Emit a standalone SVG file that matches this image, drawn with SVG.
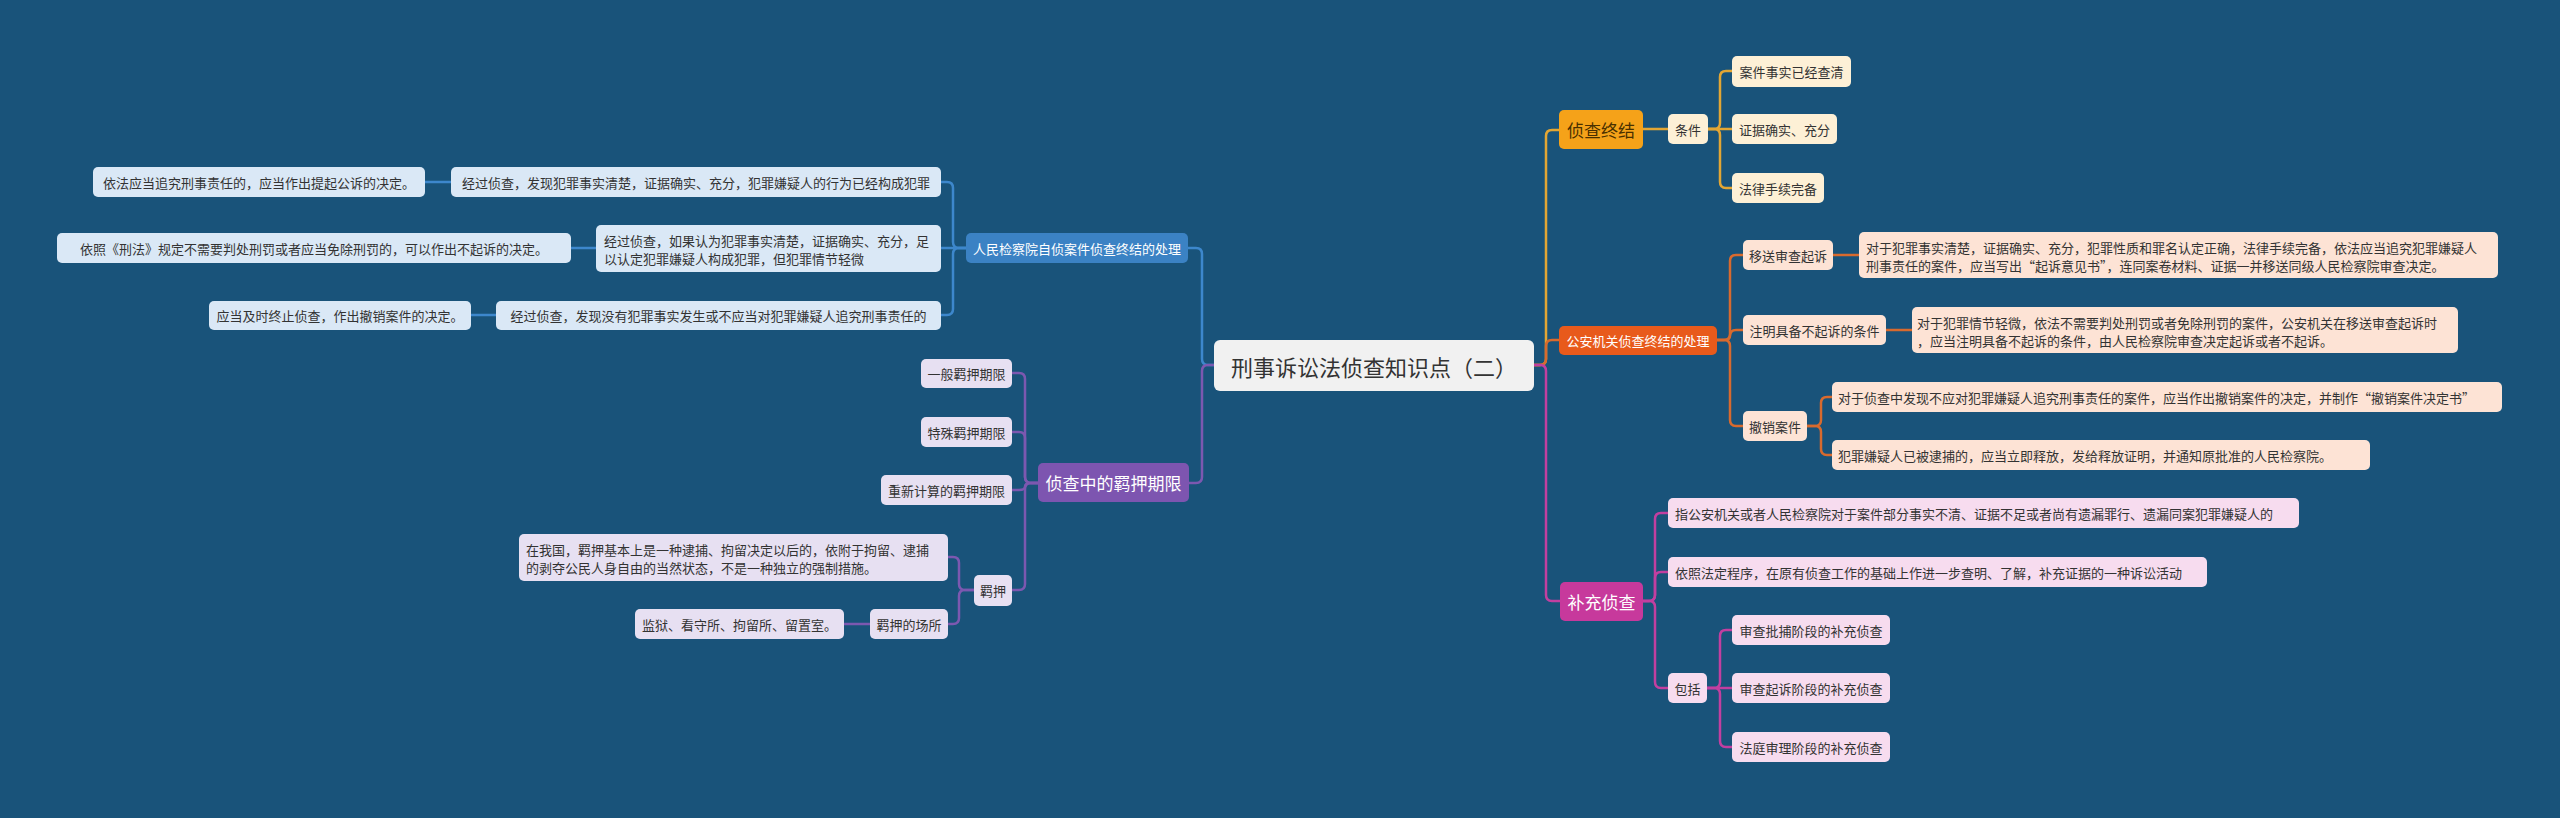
<svg xmlns="http://www.w3.org/2000/svg" width="2560" height="818" viewBox="0 0 2560 818">
<style>
text{font-family:"Noto Sans CJK SC","Noto Sans",sans-serif;dominant-baseline:central;}
.t13{font-size:13px;}
.t17{font-size:17px;}
.c{text-anchor:middle;}
.dk{fill:#333333;}
.wt{fill:#ffffff;}
.lf-b{fill:#dae8f6;}
.lf-p{fill:#e7e0f2;}
.lf-o{fill:#fdf0d6;}
.lf-r{fill:#fde3d5;}
.lf-m{fill:#f7dcef;}
.ln{fill:none;stroke-width:2.5;stroke-linecap:round;}
.lb{stroke:#3d87cc;}
.lp{stroke:#7c58b0;}
.lo{stroke:#e3a634;}
.lr{stroke:#d86a2e;}
.lm{stroke:#c23fa0;}
</style>
<rect x="0" y="0" width="2560" height="818" fill="#19537a"/>

<g id="connectors">
<path class="ln lo" d="M1534 365 H1540 Q1546 365 1546 359 V136 Q1546 130 1552 130 H1559"/>
<path class="ln lr" d="M1534 365 H1540 Q1546 365 1546 359 V346 Q1546 340 1552 340 H1559"/>
<path class="ln lm" d="M1534 365 H1540 Q1546 365 1546 371 V595 Q1546 601 1552 601 H1560"/>
<path class="ln lb" d="M1214 365 H1208 Q1202 365 1202 359 V254 Q1202 248 1196 248 H1188"/>
<path class="ln lp" d="M1214 365 H1208 Q1202 365 1202 371 V477 Q1202 483 1196 483 H1189"/>

<path class="ln lb" d="M966 248 H959 Q953 248 953 242 V188 Q953 182 947 182 H941"/>
<path class="ln lb" d="M966 248 H941"/>
<path class="ln lb" d="M966 248 H959 Q953 248 953 254 V309 Q953 315 947 315 H941"/>
<path class="ln lb" d="M451 182 H425"/>
<path class="ln lb" d="M596 248 H571"/>
<path class="ln lb" d="M496 315 H471"/>

<path class="ln lp" d="M1038 483 H1031 Q1025 483 1025 477 V379 Q1025 373 1019 373 H1012"/>
<path class="ln lp" d="M1038 483 H1031 Q1025 483 1025 477 V438 Q1025 432 1019 432 H1012"/>
<path class="ln lp" d="M1038 483 H1031 Q1025 483 1025 486.5 Q1025 490 1019 490 H1012"/>
<path class="ln lp" d="M1038 483 H1031 Q1025 483 1025 489 V584 Q1025 590 1019 590 H1012"/>
<path class="ln lp" d="M974 590 H965 Q959 590 959 584 V563 Q959 557 953 557 H948"/>
<path class="ln lp" d="M974 590 H965 Q959 590 959 596 V618 Q959 624 953 624 H948"/>
<path class="ln lp" d="M870 624 H844"/>

<path class="ln lo" d="M1643 129 H1668"/>
<path class="ln lo" d="M1708 129 H1714 Q1720 129 1720 123 V77 Q1720 71 1726 71 H1732"/>
<path class="ln lo" d="M1708 129 H1732"/>
<path class="ln lo" d="M1708 129 H1714 Q1720 129 1720 135 V182 Q1720 188 1726 188 H1732"/>

<path class="ln lr" d="M1717 340 H1724 Q1730 340 1730 334 V261 Q1730 255 1736 255 H1743"/>
<path class="ln lr" d="M1717 340 H1724 Q1730 340 1730 336 Q1730 330 1736 330 H1743"/>
<path class="ln lr" d="M1717 340 H1724 Q1730 340 1730 346 V420 Q1730 426 1736 426 H1743"/>
<path class="ln lr" d="M1833 255 H1859"/>
<path class="ln lr" d="M1886 330 H1912"/>
<path class="ln lr" d="M1807 426 H1815 Q1821 426 1821 420 V403 Q1821 397 1827 397 H1832"/>
<path class="ln lr" d="M1807 426 H1815 Q1821 426 1821 432 V449 Q1821 455 1827 455 H1832"/>

<path class="ln lm" d="M1643 601 H1649 Q1655 601 1655 595 V519 Q1655 513 1661 513 H1668"/>
<path class="ln lm" d="M1643 601 H1649 Q1655 601 1655 595 V578 Q1655 572 1661 572 H1668"/>
<path class="ln lm" d="M1643 601 H1649 Q1655 601 1655 607 V682 Q1655 688 1661 688 H1668"/>
<path class="ln lm" d="M1707 688 H1714 Q1720 688 1720 682 V636 Q1720 630 1726 630 H1732"/>
<path class="ln lm" d="M1707 688 H1732"/>
<path class="ln lm" d="M1707 688 H1714 Q1720 688 1720 694 V741 Q1720 747 1726 747 H1732"/>
</g>

<g id="root"><rect x="1214" y="340" width="320" height="51" rx="6" fill="#f1f1f1"/><text x="1374" y="365.5" class="c dk" font-size="22">刑事诉讼法侦查知识点（二）</text></g>

<g id="rmjcy"><rect x="966" y="233" width="222" height="30" rx="5" fill="#3b82c4"/><text x="1077" y="248" class="t13 c wt">人民检察院自侦案件侦查终结的处理</text></g>
<g id="b1"><rect class="lf-b" x="451" y="167" width="490" height="30" rx="5"/><text x="696" y="182" class="t13 c dk">经过侦查，发现犯罪事实清楚，证据确实、充分，犯罪嫌疑人的行为已经构成犯罪</text></g>
<g id="b2"><rect class="lf-b" x="596" y="225" width="345" height="47" rx="5"/><text class="t13 dk"><tspan x="604" y="239.5">经过侦查，如果认为犯罪事实清楚，证据确实、充分，足</tspan><tspan x="604" y="257.5">以认定犯罪嫌疑人构成犯罪，但犯罪情节轻微</tspan></text></g>
<g id="b3"><rect class="lf-b" x="496" y="301" width="445" height="29" rx="5"/><text x="718.5" y="315.5" class="t13 c dk">经过侦查，发现没有犯罪事实发生或不应当对犯罪嫌疑人追究刑事责任的</text></g>
<g id="a1"><rect class="lf-b" x="93" y="167" width="332" height="30" rx="5"/><text x="259" y="182" class="t13 c dk">依法应当追究刑事责任的，应当作出提起公诉的决定。</text></g>
<g id="a2"><rect class="lf-b" x="57" y="233" width="514" height="30" rx="5"/><text x="314" y="248" class="t13 c dk">依照《刑法》规定不需要判处刑罚或者应当免除刑罚的，可以作出不起诉的决定。</text></g>
<g id="a3"><rect class="lf-b" x="209" y="301" width="262" height="29" rx="5"/><text x="340" y="315.5" class="t13 c dk">应当及时终止侦查，作出撤销案件的决定。</text></g>

<g id="jyqx"><rect x="1038" y="463" width="151" height="39" rx="5" fill="#7d55b0"/><text x="1113.5" y="482.5" class="t17 c wt">侦查中的羁押期限</text></g>
<g id="p1"><rect class="lf-p" x="921" y="359" width="91" height="29" rx="5"/><text x="966.5" y="373.5" class="t13 c dk">一般羁押期限</text></g>
<g id="p2"><rect class="lf-p" x="921" y="417" width="91" height="30" rx="5"/><text x="966.5" y="432" class="t13 c dk">特殊羁押期限</text></g>
<g id="p3"><rect class="lf-p" x="881" y="475" width="131" height="30" rx="5"/><text x="946.5" y="490" class="t13 c dk">重新计算的羁押期限</text></g>
<g id="p4"><rect class="lf-p" x="974" y="575" width="38" height="31" rx="5"/><text x="993" y="590.5" class="t13 c dk">羁押</text></g>
<g id="p5"><rect class="lf-p" x="519" y="534" width="429" height="47" rx="5"/><text class="t13 dk"><tspan x="526" y="548.5">在我国，羁押基本上是一种逮捕、拘留决定以后的，依附于拘留、逮捕</tspan><tspan x="526" y="566.5">的剥夺公民人身自由的当然状态，不是一种独立的强制措施。</tspan></text></g>
<g id="p6"><rect class="lf-p" x="870" y="609" width="78" height="30" rx="5"/><text x="909" y="624" class="t13 c dk">羁押的场所</text></g>
<g id="p7"><rect class="lf-p" x="635" y="609" width="209" height="30" rx="5"/><text x="739.5" y="624" class="t13 c dk">监狱、看守所、拘留所、留置室。</text></g>

<g id="zczj"><rect x="1559" y="110" width="84" height="39" rx="5" fill="#f5a219"/><text x="1601" y="129.5" class="t17 c" fill="#4a3000">侦查终结</text></g>
<g id="o1"><rect class="lf-o" x="1668" y="114" width="40" height="30" rx="5"/><text x="1688" y="129" class="t13 c dk">条件</text></g>
<g id="o2"><rect class="lf-o" x="1732" y="56" width="119" height="31" rx="5"/><text x="1791.5" y="71.5" class="t13 c dk">案件事实已经查清</text></g>
<g id="o3"><rect class="lf-o" x="1732" y="114" width="105" height="30" rx="5"/><text x="1784.5" y="129" class="t13 c dk">证据确实、充分</text></g>
<g id="o4"><rect class="lf-o" x="1732" y="173" width="92" height="30" rx="5"/><text x="1778" y="188" class="t13 c dk">法律手续完备</text></g>

<g id="gajg"><rect x="1559" y="326" width="158" height="29" rx="5" fill="#e85a1b"/><text x="1638" y="340.5" class="t13 c wt">公安机关侦查终结的处理</text></g>
<g id="r1"><rect class="lf-r" x="1743" y="240" width="90" height="30" rx="5"/><text x="1788" y="255" class="t13 c dk">移送审查起诉</text></g>
<g id="r2"><rect class="lf-r" x="1859" y="232" width="639" height="46" rx="5"/><text class="t13 dk"><tspan x="1866" y="247">对于犯罪事实清楚，证据确实、充分，犯罪性质和罪名认定正确，法律手续完备，依法应当追究犯罪嫌疑人</tspan><tspan x="1866" y="264.5">刑事责任的案件，应当写出“起诉意见书”，连同案卷材料、证据一并移送同级人民检察院审查决定。</tspan></text></g>
<g id="r3"><rect class="lf-r" x="1743" y="315" width="143" height="30" rx="5"/><text x="1814.5" y="330" class="t13 c dk">注明具备不起诉的条件</text></g>
<g id="r4"><rect class="lf-r" x="1912" y="307" width="546" height="46" rx="5"/><text class="t13 dk"><tspan x="1917" y="322">对于犯罪情节轻微，依法不需要判处刑罚或者免除刑罚的案件，公安机关在移送审查起诉时</tspan><tspan x="1917" y="339.5">，应当注明具备不起诉的条件，由人民检察院审查决定起诉或者不起诉。</tspan></text></g>
<g id="r5"><rect class="lf-r" x="1743" y="411" width="64" height="30" rx="5"/><text x="1775" y="426" class="t13 c dk">撤销案件</text></g>
<g id="r6"><rect class="lf-r" x="1832" y="382" width="670" height="30" rx="5"/><text x="1838" y="397" class="t13 dk">对于侦查中发现不应对犯罪嫌疑人追究刑事责任的案件，应当作出撤销案件的决定，并制作“撤销案件决定书”</text></g>
<g id="r7"><rect class="lf-r" x="1832" y="440" width="538" height="30" rx="5"/><text x="1838" y="455" class="t13 dk">犯罪嫌疑人已被逮捕的，应当立即释放，发给释放证明，并通知原批准的人民检察院。</text></g>

<g id="bczc"><rect x="1560" y="582" width="83" height="39" rx="5" fill="#c7399c"/><text x="1601.5" y="601.5" class="t17 c wt">补充侦查</text></g>
<g id="m1"><rect class="lf-m" x="1668" y="498" width="631" height="30" rx="5"/><text x="1675" y="513" class="t13 dk">指公安机关或者人民检察院对于案件部分事实不清、证据不足或者尚有遗漏罪行、遗漏同案犯罪嫌疑人的</text></g>
<g id="m2"><rect class="lf-m" x="1668" y="557" width="539" height="30" rx="5"/><text x="1675" y="572" class="t13 dk">依照法定程序，在原有侦查工作的基础上作进一步查明、了解，补充证据的一种诉讼活动</text></g>
<g id="m3"><rect class="lf-m" x="1668" y="673" width="39" height="30" rx="5"/><text x="1687.5" y="688" class="t13 c dk">包括</text></g>
<g id="m4"><rect class="lf-m" x="1732" y="615" width="158" height="30" rx="5"/><text x="1811" y="630" class="t13 c dk">审查批捕阶段的补充侦查</text></g>
<g id="m5"><rect class="lf-m" x="1732" y="673" width="158" height="30" rx="5"/><text x="1811" y="688" class="t13 c dk">审查起诉阶段的补充侦查</text></g>
<g id="m6"><rect class="lf-m" x="1732" y="732" width="158" height="30" rx="5"/><text x="1811" y="747" class="t13 c dk">法庭审理阶段的补充侦查</text></g>
</svg>
